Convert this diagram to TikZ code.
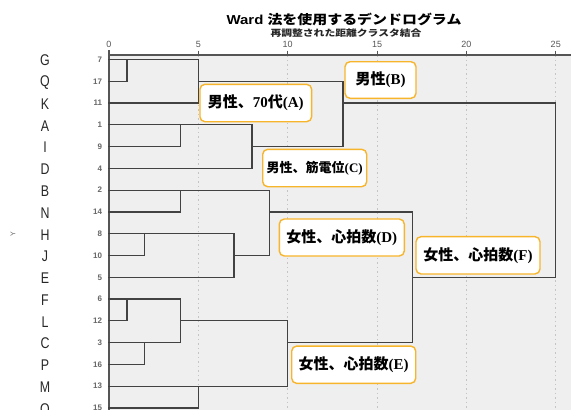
\documentclass[tikz,border=0pt]{standalone}
\usepackage{fontspec}
\setmainfont{Liberation Sans}
\newfontfamily\cjk{Noto Sans CJK JP}
\newfontfamily\narrowsf[FakeStretch=0.8]{Liberation Sans}
\newfontfamily\serifl{Liberation Serif}
\newcommand\lat[1]{{\serifl #1}}
\definecolor{bgc}{HTML}{EFEFEF}
\definecolor{linec}{HTML}{424242}
\definecolor{calloutc}{HTML}{F7B52C}
\definecolor{gridc}{HTML}{C4C4C4}
\definecolor{numc}{HTML}{666666}
\definecolor{axisc}{HTML}{555555}
\tikzset{
  dend/.style={draw=linec, line width=1.25pt, line cap=rect},
  gridline/.style={draw=gridc, line width=0.8pt, dash pattern=on 1.5pt off 3pt},
  callout/.style={draw=calloutc, line width=1.4pt, fill=white, rounded corners=5pt, inner sep=0pt, font=\cjk\bfseries\fontsize{15}{15}\selectfont},
  leaflab/.style={font=\narrowsf\fontsize{15.5}{16}\selectfont, text=black!85},
  leafnum/.style={font=\bfseries\fontsize{8}{8}\selectfont, text=numc, anchor=east},
  axnum/.style={font=\fontsize{9}{9}\selectfont, text=axisc},
}
\begin{document}
\begin{tikzpicture}[x=1pt,y=-1pt]
\useasboundingbox (0,0) rectangle (571,410);
% background of plot
\fill[bgc] (108,55) rectangle (571,410);
\foreach \u in {5,10,15,20,25}
  \draw[gridline] ({109+17.87*\u},55) -- ({109+17.87*\u},410);
% axis
\draw[axisc, line width=1.3pt] (108,55) -- (571,55);
\draw[axisc, line width=1.1pt] (109,50) -- (109,410);
\foreach \u in {5,10,15,20,25}
  \draw[axisc, line width=1.1pt] ({109+17.87*\u},50.5) -- ({109+17.87*\u},55);
\foreach \u in {0,5,10,15,20,25}
  \node[axnum] (ax\u) at ({109+17.87*\u},44) {\u};
% titles
\node[font=\bfseries\fontsize{13}{13}\selectfont, xscale=1.15] (title) at (344,19) {Ward {\cjk\bfseries 法を使用するデンドログラム}};
\node[font=\cjk\bfseries\fontsize{9}{9}\selectfont, text=black!85, xscale=1.2] (subtitle) at (346,33) {再調整された距離クラスタ結合};
\node[font=\fontsize{7}{7}\selectfont, text=numc, rotate=90] (ylab) at (13,234) {Y};
% leaf labels and numbers
\foreach \lab/\num/\i in {G/7/0,Q/17/1,K/11/2,A/1/3,I/9/4,D/4/5,B/2/6,N/14/7,H/8/8,J/10/9,E/5/10,F/6/11,L/12/12,C/3/13,P/16/14,M/13/15,O/15/16}{
  \node[leaflab] (lab\lab) at (45,{60.5+21.78*\i}) {\lab};
  \node[leafnum] (num\lab) at (105.5,{59.5+21.78*\i}) {\num};
}
% leaves
\foreach \xe/\i in {198.4/0,126.9/1,198.4/2,252/3,180.5/4,252/5,269.8/6,180.5/7,234.1/8,144.7/9,234.1/10,180.5/11,126.9/12,180.5/13,144.7/14,287.7/15,198.4/16}
  \draw[dend] (109,{59.5+21.78*\i}) -- (\xe,{59.5+21.78*\i});
% merge verticals
\foreach \xm/\a/\b in {126.9/0/1,198.4/0/2,180.5/3/4,252/3/5,343/1/4,180.5/6/7,144.7/8/9,234.1/8/10,269.8/6/9,126.9/11/12,144.7/13/14,180.5/11/13,198.4/15/16,287.7/12/15,412.8/7/13,555.8/2/10}
  \draw[dend] (\xm,{59.5+21.78*\a}) -- (\xm,{59.5+21.78*\b});
% cluster outputs
\foreach \xs/\xe/\i in {198.4/343/1,252/343/4,234.1/269.8/9,180.5/287.7/12,343/555.8/2,269.8/412.8/7,287.7/412.8/13,412.8/555.8/10}
  \draw[dend] (\xs,{59.5+21.78*\i}) -- (\xe,{59.5+21.78*\i});
% callouts
\node[callout, minimum width=111.7pt, minimum height=37.4pt] (cA) at (255.8,103) {男性、\lat{70}代\lat{(A)}};
\node[callout, minimum width=71pt, minimum height=36.6pt] (cB) at (380.5,80) {男性\lat{(B)}};
\node[callout, minimum width=104pt, minimum height=37.4pt, font=\cjk\bfseries\fontsize{13}{13}\selectfont] (cC) at (314.7,168) {男性、筋電位\lat{(C)}};
\node[callout, minimum width=125pt, minimum height=37pt] (cD) at (341.8,237.5) {女性、心拍数\lat{(D)}};
\node[callout, minimum width=124pt, minimum height=37.3pt] (cF) at (478,255.3) {女性、心拍数\lat{(F)}};
\node[callout, minimum width=124pt, minimum height=37.3pt] (cE) at (353.7,364.7) {女性、心拍数\lat{(E)}};
\end{tikzpicture}
\end{document}
